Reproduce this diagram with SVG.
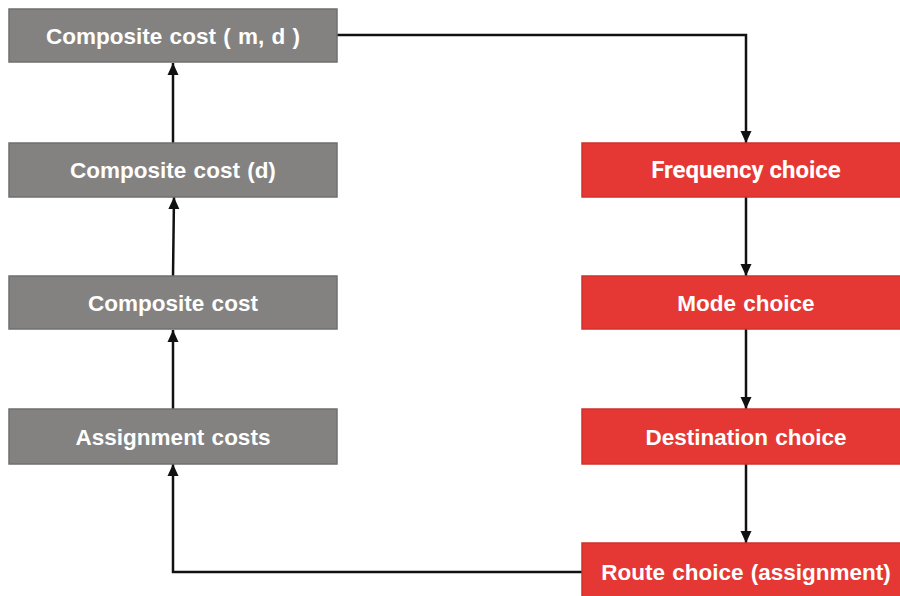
<svg xmlns="http://www.w3.org/2000/svg" width="900" height="596" viewBox="0 0 900 596">
<style>
.gray{fill:#838281;stroke:#6f6f6f;stroke-width:1.5}
.red{fill:#e53834;stroke:#d0302c;stroke-width:1.5}
.lbl{font-family:"Liberation Sans",Arial,sans-serif;font-weight:bold;font-size:22.5px;fill:#ffffff;text-anchor:middle;word-spacing:1px}
.rb{font-family:Roboto,"Liberation Sans",sans-serif;font-size:24px;word-spacing:0}
.conn{fill:none;stroke:#111111;stroke-width:2.5;marker-end:url(#ah)}
</style>
<defs>
<marker id="ah" markerUnits="userSpaceOnUse" viewBox="0 0 12 12" refX="12" refY="6" markerWidth="12" markerHeight="12" orient="auto">
<path d="M0,0.5 L12,6 L0,11.5 z" fill="#111111"/>
</marker>
</defs>
<rect width="900" height="596" fill="#ffffff"/>
<g id="connectors">
<path class="conn" d="M173,143 L173,63"/>
<path class="conn" d="M173,276 L174,197"/>
<path class="conn" d="M173,409 L173,330"/>
<path class="conn" d="M582,572 L173,572 L173,464"/>
<path class="conn" d="M337,35 L746,35 L746,143"/>
<path class="conn" d="M746,197 L746,276"/>
<path class="conn" d="M746,329 L746,409"/>
<path class="conn" d="M746,464 L746,543"/>
</g>
<g id="composite-md">
<rect class="gray" x="9" y="9" width="328" height="53"/>
<text class="lbl" x="173" y="44">Composite cost ( m, d )</text>
</g>
<g id="composite-d">
<rect class="gray" x="9" y="143" width="328" height="54"/>
<text class="lbl" x="173" y="178">Composite cost (d)</text>
</g>
<g id="composite">
<rect class="gray" x="9" y="276" width="328" height="53"/>
<text class="lbl" x="173" y="311">Composite cost</text>
</g>
<g id="assignment-costs">
<rect class="gray" x="9" y="409" width="328" height="55"/>
<text class="lbl" x="173" y="445">Assignment costs</text>
</g>
<g id="frequency">
<rect class="red" x="582" y="143" width="330" height="54"/>
<text class="lbl rb" x="746" y="178">Frequency choice</text>
</g>
<g id="mode">
<rect class="red" x="582" y="276" width="330" height="53"/>
<text class="lbl" x="746" y="311">Mode choice</text>
</g>
<g id="destination">
<rect class="red" x="582" y="409" width="330" height="55"/>
<text class="lbl" x="746" y="445">Destination choice</text>
</g>
<g id="route">
<rect class="red" x="582" y="543" width="330" height="60"/>
<text class="lbl" x="746" y="580">Route choice (assignment)</text>
</g>
</svg>
